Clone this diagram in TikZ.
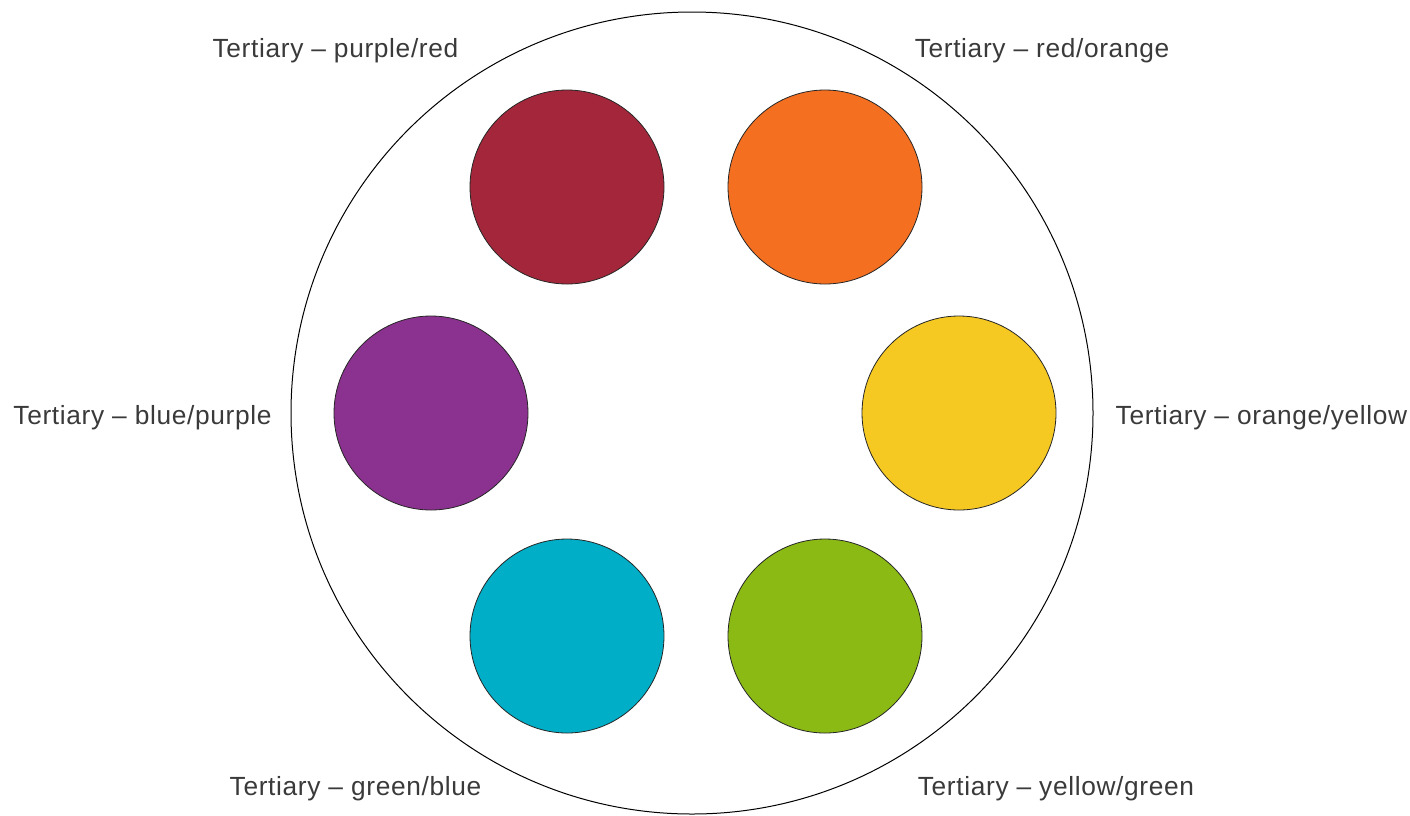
\documentclass[tikz,border=0pt]{standalone}
\usepackage{fontspec}
\setmainfont{Liberation Sans}[LetterSpace=2.5]
\definecolor{cPR}{HTML}{A3263A}
\definecolor{cRO}{HTML}{F56F20}
\definecolor{cBP}{HTML}{8B318F}
\definecolor{cOY}{HTML}{F6C822}
\definecolor{cGB}{HTML}{00AEC7}
\definecolor{cYG}{HTML}{8BBA14}
\definecolor{txt}{HTML}{3A3A3A}
\tikzset{
  swatch/.style={circle, draw=black!85, line width=0.8pt, minimum size=194pt, inner sep=0pt},
  wheel/.style={circle, draw=black, line width=1pt, minimum size=802pt, inner sep=0pt},
  lbl/.style={anchor=base, text=txt, inner sep=0pt, font=\fontsize{26.3}{30}\selectfont}
}
\begin{document}
\begin{tikzpicture}[x=1pt,y=-1pt]
\useasboundingbox (0,0) rectangle (1410,815);
\node[wheel] (wheel) at (692,413) {};
\node[swatch, fill=cPR] (pr) at (567,187) {};
\node[swatch, fill=cRO] (ro) at (825,187) {};
\node[swatch, fill=cBP] (bp) at (431,413) {};
\node[swatch, fill=cOY] (oy) at (959,413) {};
\node[swatch, fill=cGB] (gb) at (567,636) {};
\node[swatch, fill=cYG] (yg) at (825,636) {};
\node[lbl] (lpr) at (335.5,57) {Tertiary – purple/red};
\node[lbl] (lro) at (1042,57) {Tertiary – red/orange};
\node[lbl] (lbp) at (142.5,424) {Tertiary – blue/purple};
\node[lbl] (loy) at (1261.5,424) {Tertiary – orange/yellow};
\node[lbl] (lgb) at (355.5,795) {Tertiary – green/blue};
\node[lbl] (lyg) at (1056,795) {Tertiary – yellow/green};
\end{tikzpicture}
\end{document}
